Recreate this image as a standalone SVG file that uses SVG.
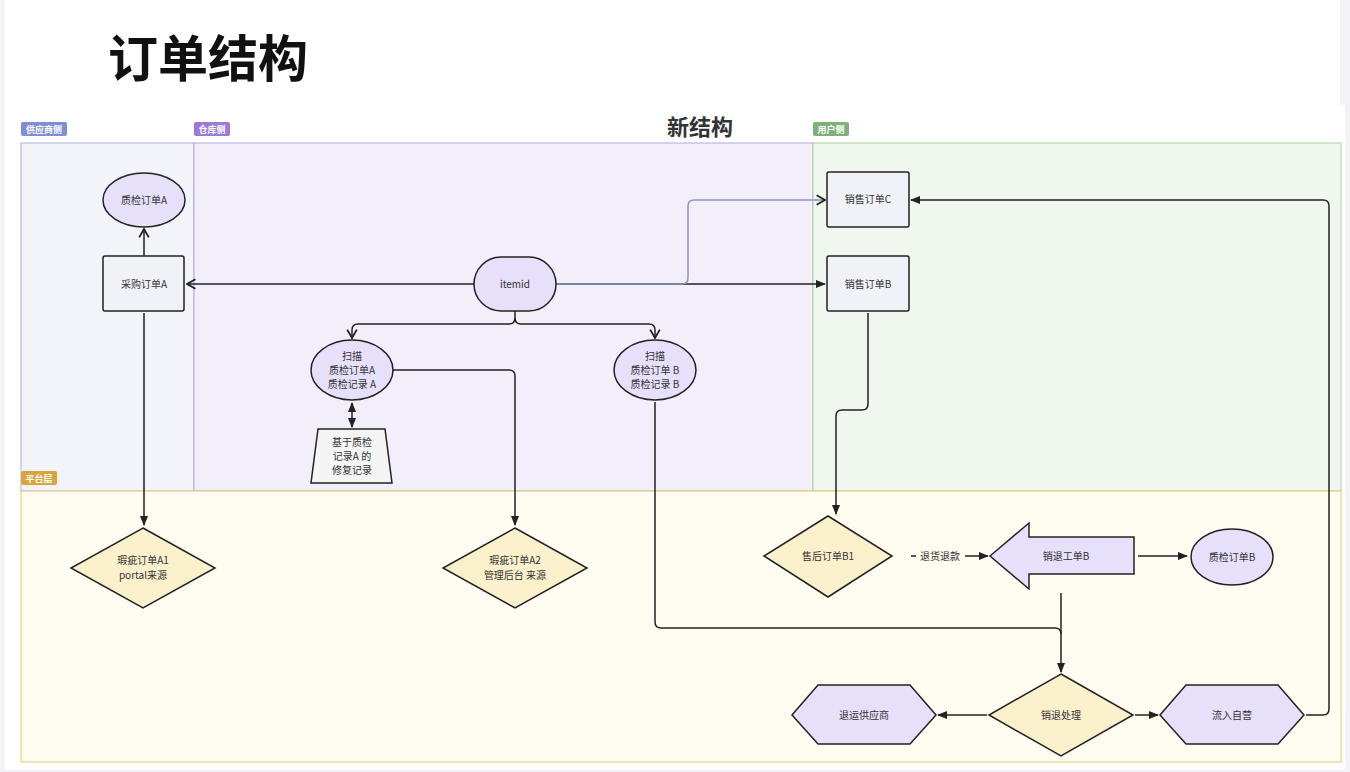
<svg xmlns="http://www.w3.org/2000/svg" width="1350" height="772" viewBox="0 0 1350 772">
<defs>
<style>
text{font-family:"Noto Sans CJK SC","Noto Sans",sans-serif;fill:#333;font-size:10px;text-anchor:middle}
.n{stroke:#222;stroke-width:1.5}
.p{fill:#e6e0fb}.y{fill:#fbf0cc}.w{fill:#f1f2f8}
.c{fill:none;stroke:#222;stroke-width:1.5}
.tag{fill:#fff;font-size:9px;font-weight:bold}
</style>
<marker id="f" viewBox="0 0 10 10" refX="9" refY="5" markerWidth="7" markerHeight="7" orient="auto-start-reverse"><path d="M0,1 L10,5 L0,9z" fill="#222"/></marker>
<marker id="o" viewBox="0 0 10 10" refX="9" refY="5" markerWidth="8" markerHeight="8" orient="auto"><path d="M2,1 L9,5 L2,9" fill="none" stroke="#222" stroke-width="1.5"/></marker>
</defs>
<rect width="1350" height="772" fill="#f3f3f5"/>
<rect x="5" y="0" width="1335" height="105" fill="#fff"/>
<rect x="5" y="105" width="1340" height="665" fill="#fff"/>
<text x="108" y="77" style="font-size:50px;font-weight:bold;fill:#111;text-anchor:start">订单结构</text>
<text x="700" y="135" style="font-size:22px;font-weight:bold;fill:#333">新结构</text>
<g id="lanes">
<rect x="21" y="143" width="173" height="348" fill="#f3f4fa" stroke="#a9b1e0"/>
<rect x="194" y="143" width="619" height="348" fill="#f2effb" stroke="#b4a8e6"/>
<rect x="813" y="143" width="528" height="348" fill="#f0f7ef" stroke="#a9d0a0"/>
<rect x="21" y="491" width="1320" height="271" fill="#fffcf2" stroke="#e8c66a"/>
<rect x="21" y="122" width="46" height="14" rx="2" fill="#7f8fd6"/><text x="44" y="133" class="tag">供应商侧</text>
<rect x="194" y="122" width="36" height="14" rx="2" fill="#9b7ad8"/><text x="212" y="133" class="tag">仓库侧</text>
<rect x="813" y="122" width="36" height="14" rx="2" fill="#7fb07a"/><text x="831" y="133" class="tag">用户侧</text>
<rect x="21" y="471" width="36" height="14" rx="2" fill="#d9a53a"/><text x="39" y="482" class="tag">平台层</text>
</g>
<g id="connectors">
<path class="c" d="M474,284 H187" marker-end="url(#o)"/>
<path class="c" d="M144,256 V229" marker-end="url(#o)"/>
<path class="c" d="M144,313 V525" marker-end="url(#f)"/>
<path class="c" d="M556,284 H825" marker-end="url(#f)"/>
<path d="M556,284 H682 Q688,284 688,278 V206 Q688,200 694,200 H825" fill="none" stroke="#8c93c6" stroke-width="1.5" marker-end="url(#o)"/>
<path class="c" d="M515,311 V318 Q515,324 509,324 H358 Q352,324 352,330 V338" marker-end="url(#o)"/>
<path class="c" d="M515,318 Q515,324 521,324 H649 Q655,324 655,330 V338" marker-end="url(#o)"/>
<path class="c" d="M393,370 H509 Q515,370 515,376 V525" marker-end="url(#f)"/>
<path class="c" d="M352,403 V427" marker-start="url(#f)" marker-end="url(#f)"/>
<path class="c" d="M655,402 V622 Q655,628 661,628 H1055 Q1061,628 1061,634"/>
<path class="c" d="M1061,593 V672" marker-end="url(#f)"/>
<path class="c" d="M868,313 V404 Q868,410 862,410 H842 Q836,410 836,416 V514" marker-end="url(#f)"/>
<path class="c" d="M911,556 H916"/>
<path class="c" d="M965,556 H988" marker-end="url(#f)"/>
<text x="940" y="560">退货退款</text>
<path class="c" d="M1138,556 H1187" marker-end="url(#f)"/>
<path class="c" d="M987,715 H938" marker-end="url(#f)"/>
<path class="c" d="M1135,715 H1158" marker-end="url(#f)"/>
<path class="c" d="M1306,715 H1323 Q1329,715 1329,709 V206 Q1329,200 1323,200 H911" marker-end="url(#f)"/>
</g>
<g id="n1"><ellipse class="n p" cx="144" cy="200" rx="41" ry="27"/><text x="144" y="204">质检订单A</text></g>
<g id="n2"><rect class="n w" x="103" y="256" width="81" height="55" rx="2"/><text x="144" y="288">采购订单A</text></g>
<g id="n3"><rect class="n p" x="474" y="257" width="82" height="54" rx="27"/><text x="515" y="288">itemid</text></g>
<g id="n4"><rect class="n w" x="827" y="172" width="82" height="55" rx="2"/><text x="868" y="203">销售订单C</text></g>
<g id="n5"><rect class="n w" x="827" y="256" width="82" height="55" rx="2"/><text x="868" y="288">销售订单B</text></g>
<g id="n6"><ellipse class="n p" cx="352" cy="370" rx="41" ry="30"/><text x="352" y="360">扫描</text><text x="352" y="374">质检订单A</text><text x="352" y="388">质检记录 A</text></g>
<g id="n7"><ellipse class="n p" cx="655" cy="370" rx="41" ry="30"/><text x="655" y="360">扫描</text><text x="655" y="374">质检订单 B</text><text x="655" y="388">质检记录 B</text></g>
<g id="n8"><polygon class="n" fill="#f4f4f4" points="318,429 385,429 392,483 311,483"/><text x="352" y="446">基于质检</text><text x="352" y="460">记录A 的</text><text x="352" y="474">修复记录</text></g>
<g id="n9"><polygon class="n y" points="143,528 215,568 143,608 71,568"/><text x="143" y="564">瑕疵订单A1</text><text x="143" y="579">portal来源</text></g>
<g id="n10"><polygon class="n y" points="515,528 587,568 515,608 443,568"/><text x="515" y="564">瑕疵订单A2</text><text x="515" y="579">管理后台 来源</text></g>
<g id="n11"><polygon class="n y" points="828,516 892,556 828,597 764,556"/><text x="828" y="560">售后订单B1</text></g>
<g id="n12"><polygon class="n p" points="990,556 1029,523 1029,537 1134,537 1134,574 1029,574 1029,589"/><text x="1066" y="560">销退工单B</text></g>
<g id="n13"><ellipse class="n p" cx="1232" cy="557" rx="41" ry="28"/><text x="1232" y="561">质检订单B</text></g>
<g id="n14"><polygon class="n y" points="1061,674 1133,715 1061,756 989,715"/><text x="1061" y="719">销退处理</text></g>
<g id="n15"><polygon class="n p" points="792,715 818,685 910,685 936,715 910,744 818,744"/><text x="864" y="719">退运供应商</text></g>
<g id="n16"><polygon class="n p" points="1160,715 1186,685 1278,685 1304,715 1278,744 1186,744"/><text x="1232" y="719">流入自营</text></g>
</svg>
